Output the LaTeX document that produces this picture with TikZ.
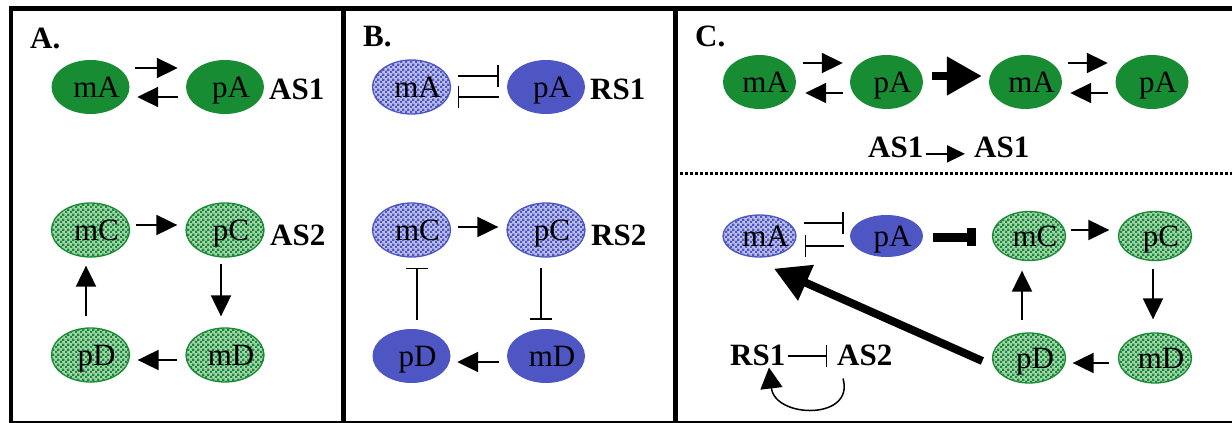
\documentclass[tikz,border=0pt]{standalone}
\usepackage{fontspec}
\setmainfont{Liberation Serif}
\usetikzlibrary{shapes.geometric,arrows.meta,patterns}
\definecolor{leafgreen}{RGB}{23,140,51}
\definecolor{slateblue}{RGB}{78,86,196}
% two-colour checker used for the mRNA species
\pgfdeclarepatternformonly{finechecker}{\pgfpointorigin}{\pgfqpoint{5pt}{5pt}}{\pgfqpoint{5pt}{5pt}}{
  \pgfpathrectangle{\pgfpointorigin}{\pgfqpoint{2.6pt}{2.6pt}}
  \pgfpathrectangle{\pgfqpoint{2.5pt}{2.5pt}}{\pgfqpoint{2.6pt}{2.6pt}}
  \pgfusepath{fill}
}
\tikzset{
  x=1pt, y=-1pt,
  bigfont/.style={font=\fontsize{31pt}{37pt}\selectfont},
  name txt/.style={bigfont, inner sep=0pt, text height=20pt, text depth=0pt},
  lbl/.style={font=\fontsize{31pt}{37pt}\selectfont\bfseries, inner sep=0pt, anchor=base west},
  species/.style={ellipse, inner sep=0pt, minimum width=78pt, minimum height=54pt,
    label={[name txt, xshift=6pt]center:#1}},
  narrow/.style={minimum width=73pt},
  gsolid/.style={fill=leafgreen},
  bsolid/.style={fill=slateblue},
  gdots/.style={draw=leafgreen, line width=1.3pt, preaction={fill=leafgreen!38!white},
    pattern=finechecker, pattern color=leafgreen},
  bdots/.style={draw=slateblue, line width=1.3pt, preaction={fill=slateblue!38!white},
    pattern=finechecker, pattern color=slateblue},
  act/.style={-{Triangle[length=21pt,width=20pt]}, line width=2pt},
  smallact/.style={-{Triangle[length=18pt,width=17pt]}, line width=2pt},
  inh/.style={-{Bar[width=22pt]}, line width=1.5pt},
  bigact/.style={-{Triangle[length=35pt,width=37pt]}, line width=8pt},
  biginh/.style={-{Bar[width=18pt]}, line width=9pt},
}
\begin{document}
\begin{tikzpicture}
\useasboundingbox (0,0) rectangle (1232,423);

% frame and panel dividers
\fill (9,6) rectangle (1232,11);
\fill (9,6) rectangle (13,423);
\fill (341,6) rectangle (346,423);
\fill (673,6) rectangle (678,423);
\fill (9,421) rectangle (1232,423);

% ---------------- panel A ----------------
\node[lbl] (hA) at (30,48) {A.};
\node[species=mA, gsolid] (a-mA) at (90.5,87) {};
\node[species=pA, gsolid] (a-pA) at (225,87) {};
\node[lbl] (a-AS1) at (269,99) {AS1};
\draw[act, shorten <=5.5pt, shorten >=8pt] ([yshift=19pt]a-mA.east) -- ([yshift=19pt]a-pA.west);
\draw[act, shorten <=8pt, shorten >=7.5pt] ([yshift=-10pt]a-pA.west) -- ([yshift=-10pt]a-mA.east);

\node[species=mC, gdots] (a-mC) at (90.5,230) {};
\node[species=pC, gdots] (a-pC) at (225,230) {};
\node[species=mD, gdots] (a-mD) at (225,355) {};
\node[species=pD, gdots] (a-pD) at (90.5,355) {};
\node[lbl] (a-AS2) at (270,245) {AS2};
\draw[act, shorten <=5.5pt, shorten >=8pt] ([yshift=5pt]a-mC.east) -- ([yshift=5pt]a-pC.west);
\draw[act, shorten <=6pt, shorten >=11pt] ([xshift=-4pt]a-pC.south) -- ([xshift=-4pt]a-mD.north);
\draw[act, shorten <=8pt, shorten >=7.5pt] ([yshift=-5pt]a-mD.west) -- ([yshift=-5pt]a-pD.east);
\draw[act, shorten <=11pt, shorten >=8pt] ([xshift=-4.5pt]a-pD.north) -- ([xshift=-4.5pt]a-mC.south);

% ---------------- panel B ----------------
\node[lbl] (hB) at (363,46) {B.};
\node[species=mA, bdots] (b-mA) at (411.5,87) {};
\node[species=pA, bsolid] (b-pA) at (546,87) {};
\node[lbl] (b-RS1) at (590,99) {RS1};
\draw[inh, shorten <=6.5pt, shorten >=8pt] ([yshift=11pt]b-mA.east) -- ([yshift=11pt]b-pA.west);
\draw[inh, shorten <=8pt, shorten >=6.5pt] ([yshift=-10pt]b-pA.west) -- ([yshift=-10pt]b-mA.east);

\node[species=mC, bdots] (b-mC) at (411.5,230) {};
\node[species=pC, bdots] (b-pC) at (546,230) {};
\node[species=mD, bsolid] (b-mD) at (546,356) {};
\node[species=pD, bsolid] (b-pD) at (411.5,356) {};
\node[lbl] (b-RS2) at (591,245) {RS2};
\draw[act, shorten <=6.5pt, shorten >=8pt] ([yshift=3pt]b-mC.east) -- ([yshift=3pt]b-pC.west);
\draw[inh, shorten <=10pt, shorten >=9pt] ([xshift=-5pt]b-pC.south) -- ([xshift=-5pt]b-mD.north);
\draw[act, shorten <=8pt, shorten >=6.5pt] ([yshift=-6pt]b-mD.west) -- ([yshift=-6pt]b-pD.east);
\draw[inh, shorten <=9pt, shorten >=10pt] ([xshift=5.5pt]b-pD.north) -- ([xshift=5.5pt]b-mC.south);

% ---------------- panel C, top ----------------
\node[lbl] (hC) at (695,46) {C.};
\node[species=mA, narrow, gsolid] (c-mA1) at (759.5,82) {};
\node[species=pA, narrow, gsolid] (c-pA1) at (886.5,82) {};
\node[species=mA, narrow, gsolid] (c-mA2) at (1025.5,82) {};
\node[species=pA, narrow, gsolid] (c-pA2) at (1152,82) {};
\draw[act, shorten <=7pt, shorten >=7pt] ([yshift=19pt]c-mA1.east) -- ([yshift=19pt]c-pA1.west);
\draw[act, shorten <=7pt, shorten >=9pt] ([yshift=-11pt]c-pA1.west) -- ([yshift=-11pt]c-mA1.east);
\draw[bigact, shorten <=9pt, shorten >=7pt] ([yshift=6pt]c-pA1.east) -- ([yshift=6pt]c-mA2.west);
\draw[act, shorten <=6pt, shorten >=7.5pt] ([yshift=19pt]c-mA2.east) -- ([yshift=19pt]c-pA2.west);
\draw[act, shorten <=7.5pt, shorten >=8pt] ([yshift=-11pt]c-pA2.west) -- ([yshift=-11pt]c-mA2.east);

\node[lbl] (c-as1a) at (868,157) {AS1};
\node[lbl] (c-as1b) at (974,157) {AS1};
\draw[smallact, shorten <=2pt, shorten >=9pt] ([yshift=-7pt]c-as1a.east) -- ([yshift=-7pt]c-as1b.west);

% separator
\draw[line width=3pt, dash pattern=on 2.5pt off 2.5pt] (680,173) -- (1232,173);

% ---------------- panel C, bottom ----------------
\node[species=mA, narrow, minimum height=42pt, bdots] (c-mA) at (759.5,236) {};
\node[species=pA, narrow, minimum height=42pt, bsolid] (c-pA) at (886.5,236) {};
\draw[inh, shorten <=7pt, shorten >=6pt] ([yshift=13pt]c-mA.east) -- ([yshift=13pt]c-pA.west);
\draw[inh, shorten <=6pt, shorten >=8pt] ([yshift=-10pt]c-pA.west) -- ([yshift=-10pt]c-mA.east);

\node[species=mC, narrow, minimum height=49pt, gdots] (c-mC) at (1029,236) {};
\node[species=pC, narrow, minimum height=49pt, gdots] (c-pC) at (1155,236) {};
\node[species=mD, narrow, minimum height=50pt, gdots] (c-mD) at (1155,358) {};
\node[species=pD, narrow, minimum height=50pt, gdots] (c-pD) at (1029,358) {};
\draw[biginh, shorten <=10pt, shorten >=15.5pt] ([yshift=-1pt]c-pA.east) -- ([yshift=-1pt]c-mC.west);
\draw[act, shorten <=4.5pt, shorten >=8.5pt] ([yshift=6pt]c-mC.east) -- ([yshift=6pt]c-pC.west);
\draw[act, shorten <=7.5pt, shorten >=13pt] ([xshift=-2pt]c-pC.south) -- ([xshift=-2pt]c-mD.north);
\draw[act, shorten <=8.5pt, shorten >=6.5pt] ([yshift=-5pt]c-mD.west) -- ([yshift=-5pt]c-pD.east);
\draw[act, shorten <=12pt, shorten >=9.5pt] ([xshift=-7pt]c-pD.north) -- ([xshift=-7pt]c-mC.south);
\draw[bigact] ([shift={(-9.5pt,-3pt)}]c-pD.west) -- ([shift={(14.5pt,-11pt)}]c-mA.south);

\node[lbl] (c-rs) at (730,365) {RS1};
\node[lbl] (c-as) at (837,365) {AS2};
\draw[inh, shorten <=2pt, shorten >=10pt] ([yshift=-1pt]c-rs.east) -- ([yshift=-1pt]c-as.west);
\draw[-{Triangle[length=21pt,width=22pt]}, line width=1.5pt]
  ([shift={(6pt,-13pt)}]c-as.south west) .. controls +(12pt,-42pt) and +(6pt,-51pt) .. ([shift={(39pt,-2pt)}]c-rs.south west);
\end{tikzpicture}
\end{document}
